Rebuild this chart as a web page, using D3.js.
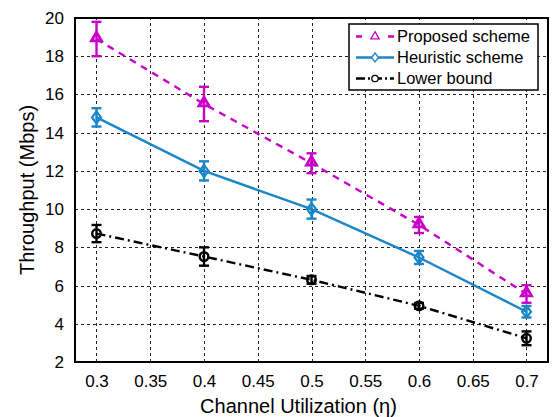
<!DOCTYPE html>
<html>
<head>
<meta charset="utf-8">
<script src="https://cdn.jsdelivr.net/npm/d3@7"></script>
<style>
  body { margin: 0; background: #fff; }
  text { font-family: "Liberation Sans", Arial, sans-serif; }
</style>
</head>
<body>
<script>
// ---- data ----
var utilization = [0.3, 0.4, 0.5, 0.6, 0.7]
var proposed    = [18.9, 15.5, 12.4, 9.17, 5.56]
var proposedErr = [0.9, 0.9, 0.52, 0.42, 0.46]
var heuristic   = [14.8, 12.0, 10.0, 7.47, 4.63]
var heuristicErr= [0.48, 0.5, 0.5, 0.34, 0.3]
var lower       = [8.72, 7.52, 6.3, 4.94, 3.24]
var lowerErr    = [0.45, 0.48, 0.2, 0.15, 0.36]
var xTicks = [0.3, 0.35, 0.4, 0.45, 0.5, 0.55, 0.6, 0.65, 0.7]
var yTicks = [2, 4, 6, 8, 10, 12, 14, 16, 18, 20]

var series = [
  { name: "Proposed scheme",  y: proposed,  e: proposedErr,  color: "#c800c8", dash: "7,6",       marker: "tri" },
  { name: "Heuristic scheme", y: heuristic, e: heuristicErr, color: "#1a86c8", dash: null,        marker: "dia" },
  { name: "Lower bound",      y: lower,     e: lowerErr,     color: "#000000", dash: "9,4,2,4",   marker: "circ" }
]

// ---- layout ----
var W = 552, H = 417
var m = { left: 75, top: 18, right: 4, bottom: 55 }

var svg = d3.select("body").append("svg").attr("width", W).attr("height", H)

var x = d3.scaleLinear().domain([0.28, 0.72]).range([m.left, W - m.right])
var y = d3.scaleLinear().domain([2, 20]).range([H - m.bottom, m.top])

// grid
var grid = svg.append("g").attr("stroke", "#000").attr("stroke-width", 1)
  .attr("stroke-dasharray", "3,3").attr("opacity", 0.85)
grid.selectAll(".gx").data(xTicks).enter().append("line")
  .attr("x1", function(d){ return Math.round(x(d)) + 0.5 }).attr("x2", function(d){ return Math.round(x(d)) + 0.5 })
  .attr("y1", y(2)).attr("y2", y(20))
grid.selectAll(".gy").data(yTicks).enter().append("line")
  .attr("y1", function(d){ return Math.round(y(d)) + 0.5 }).attr("y2", function(d){ return Math.round(y(d)) + 0.5 })
  .attr("x1", x(0.28)).attr("x2", x(0.72))

// axes
var xAxis = svg.append("g").attr("transform", "translate(0," + y(2) + ")")
  .call(d3.axisBottom(x).tickValues(xTicks).tickSize(0).tickPadding(13).tickFormat(d3.format("")))
var yAxis = svg.append("g").attr("transform", "translate(" + x(0.28) + ",0)")
  .call(d3.axisLeft(y).tickValues(yTicks).tickSize(0).tickPadding(11))
;[xAxis, yAxis].forEach(function(a){
  a.select(".domain").remove()
  a.selectAll("text").attr("font-size", 17).attr("fill", "#000")
    .style("font-family", "Liberation Sans, Arial, sans-serif")
})

svg.append("rect").attr("x", x(0.28)).attr("y", y(20))
  .attr("width", x(0.72) - x(0.28)).attr("height", y(2) - y(20))
  .attr("fill", "none").attr("stroke", "#000").attr("stroke-width", 2)

// titles
svg.append("text").attr("x", (x(0.28) + x(0.72)) / 2 - 13).attr("y", 413)
  .attr("text-anchor", "middle").attr("font-size", 20).text("Channel Utilization (η)")
svg.append("text").attr("transform", "translate(34," + ((y(2) + y(20)) / 2) + ") rotate(-90)")
  .attr("text-anchor", "middle").attr("font-size", 20).text("Throughput (Mbps)")

// markers
function drawMarker(g, kind, cx, cy, color) {
  if (kind == "tri") {
    g.append("path").attr("d", d3.symbol(d3.symbolTriangle, 45)())
      .attr("transform", "translate(" + cx + "," + (cy - 1) + ")")
      .attr("fill", "none").attr("stroke", color).attr("stroke-width", 2.8)
  } else if (kind == "dia") {
    g.append("path").attr("d", "M0,-6L4.5,0L0,6L-4.5,0Z")
      .attr("transform", "translate(" + cx + "," + cy + ")")
      .attr("fill", "none").attr("stroke", color).attr("stroke-width", 2.2)
  } else {
    g.append("circle").attr("cx", cx).attr("cy", cy).attr("r", 4.3)
      .attr("fill", "none").attr("stroke", color).attr("stroke-width", 2.4)
  }
}

var line = d3.line().x(function(d, i){ return x(utilization[i]) }).y(function(d){ return y(d) })

series.forEach(function(s) {
  var g = svg.append("g")
  g.append("path").datum(s.y).attr("d", line)
    .attr("fill", "none").attr("stroke", s.color).attr("stroke-width", 2.4)
    .attr("stroke-dasharray", s.dash)
  s.y.forEach(function(v, i) {
    var cx = x(utilization[i])
    var top = y(v + s.e[i]), bot = y(v - s.e[i])
    g.append("line").attr("x1", cx).attr("x2", cx).attr("y1", top).attr("y2", bot)
      .attr("stroke", s.color).attr("stroke-width", 2.4)
    ;[top, bot].forEach(function(yy) {
      g.append("line").attr("x1", cx - 5).attr("x2", cx + 5).attr("y1", yy).attr("y2", yy)
        .attr("stroke", s.color).attr("stroke-width", 2.4)
    })
    drawMarker(g, s.marker, cx, y(v), s.color)
  })
})

// legend
var lg = svg.append("g").attr("transform", "translate(349,24)")
lg.append("rect").attr("width", 189).attr("height", 66)
  .attr("fill", "#fff").attr("stroke", "#000").attr("stroke-width", 1.5)
series.forEach(function(s, i) {
  var yy = 12.5 + i * 21
  lg.append("line").attr("x1", 7).attr("x2", 45).attr("y1", yy).attr("y2", yy)
    .attr("stroke", s.color).attr("stroke-width", 2.4).attr("stroke-dasharray", s.dash ? (s.marker == "tri" ? "6,10" : "9,3,2,3") : null)
  var mk = lg.append("g")
  if (s.marker == "tri") {
    mk.append("path").attr("d", d3.symbol(d3.symbolTriangle, 30)())
      .attr("transform", "translate(26," + yy + ")")
      .attr("fill", "#fff").attr("stroke", s.color).attr("stroke-width", 1.3)
  } else if (s.marker == "dia") {
    mk.append("path").attr("d", "M0,-4.5L3.5,0L0,4.5L-3.5,0Z")
      .attr("transform", "translate(26," + yy + ")")
      .attr("fill", "#fff").attr("stroke", s.color).attr("stroke-width", 1.3)
  } else {
    mk.append("circle").attr("cx", 26).attr("cy", yy).attr("r", 3.2)
      .attr("fill", "#fff").attr("stroke", s.color).attr("stroke-width", 1.3)
  }
  lg.append("text").attr("x", 48).attr("y", yy + 5.5).attr("font-size", 16.5).text(s.name)
})
</script>
</body>
</html>
